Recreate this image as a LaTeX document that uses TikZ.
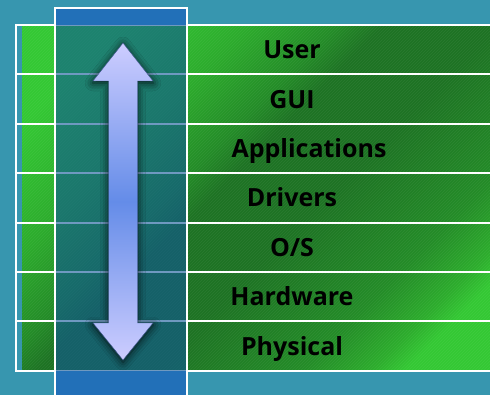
\documentclass[tikz,border=0pt]{standalone}
\usepackage{fontspec}
\setmainfont{Open Sans}
\usepackage{tikz}
\usetikzlibrary{shadows.blur}
\usetikzlibrary{patterns}
\usetikzlibrary{positioning}
\definecolor{bgteal}{RGB}{55,150,175}
\definecolor{lightgreen}{RGB}{52,200,52}
\definecolor{fairgreen}{RGB}{45,172,45}
\definecolor{midgreen}{RGB}{36,140,40}
\definecolor{deepgreen}{RGB}{30,115,36}
\definecolor{colblue}{RGB}{34,112,184}
\definecolor{colshade}{RGB}{15,85,150}
\definecolor{arrowend}{RGB}{205,205,255}
\definecolor{arrowmid}{RGB}{100,140,232}
\pgfdeclareverticalshading{layergreen}{100bp}{color(0bp)=(lightgreen); color(22bp)=(lightgreen); color(25bp)=(fairgreen); color(31bp)=(midgreen); color(44bp)=(deepgreen); color(54bp)=(deepgreen); color(58bp)=(midgreen); color(66bp)=(fairgreen); color(77bp)=(lightgreen); color(100bp)=(lightgreen)}
\tikzstyle{layer} = [font=\fontsize{25}{30}\selectfont\bfseries, text=black, inner sep=0pt, anchor=base]
\tikzstyle{sep} = [draw=white, line width=2pt]

\begin{document}
\begin{tikzpicture}[x=1pt, y=1pt]
		\useasboundingbox (0,-395) rectangle (490,0);
		\fill[bgteal] (0,-395) rectangle (490,0);
		% green stack of layers
		\shade[shading=layergreen, shading angle=45] (22,-371) rectangle (490,-25);
		\fill[pattern=north east lines, pattern color=white, opacity=0.06] (22,-371) rectangle (490,-25);
		\draw[sep] (16,-25) -- (492,-25);
		\draw[sep] (16,-74.4) -- (492,-74.4);
		\draw[sep] (16,-123.8) -- (492,-123.8);
		\draw[sep] (16,-173.2) -- (492,-173.2);
		\draw[sep] (16,-222.6) -- (492,-222.6);
		\draw[sep] (16,-272) -- (492,-272);
		\draw[sep] (16,-321.4) -- (492,-321.4);
		\draw[sep] (16,-370.8) -- (492,-370.8);
		\draw[sep] (16,-24) -- (16,-371.8);
		% column across the layers
		\fill[colshade, opacity=0.6] (55,-371) rectangle (187,-25);
		\fill[colblue] (55,-25) rectangle (187,-8);
		\fill[colblue] (55,-400) rectangle (187,-371);
		\draw[white, line width=1.5pt] (55,-400) rectangle (187,-8);
		% double arrow
		\shade[top color=arrowend, bottom color=arrowend, middle color=arrowmid, draw=arrowmid!60!black, line width=0.4pt,
			blur shadow={shadow xshift=0pt, shadow yshift=-2pt, shadow blur radius=8pt, shadow opacity=85}]
			(123,-43) -- (153,-81) -- (137.5,-81) -- (137.5,-323) -- (153,-323) -- (123,-360)
			-- (93,-323) -- (108.5,-323) -- (108.5,-81) -- (93,-81) -- cycle;
		% layer names
		\node[layer] (user) at (292,-58.7) {User};
		\node[layer] (gui) at (292,-108.1) {GUI};
		\node[layer] (apps) at (309,-157.5) {Applications};
		\node[layer] (drivers) at (292,-206.9) {Drivers};
		\node[layer] (os) at (292,-256.3) {O/S};
		\node[layer] (hardware) at (292,-305.7) {Hardware};
		\node[layer] (physical) at (292,-355.1) {Physical};
	\end{tikzpicture}
\end{document}
